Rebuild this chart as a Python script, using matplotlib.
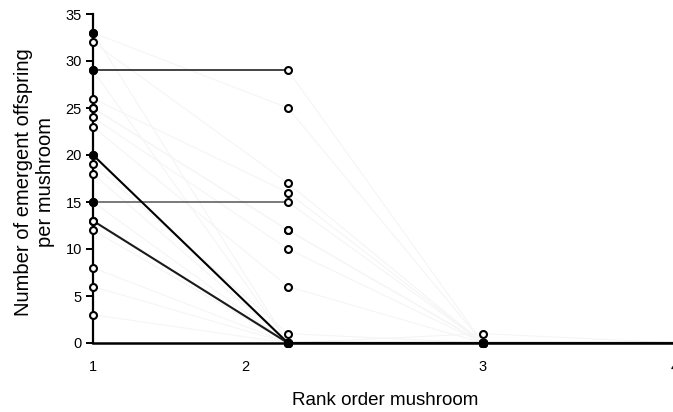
import matplotlib
matplotlib.use("Agg")
import matplotlib.pyplot as plt
from matplotlib.ticker import FixedLocator

plt.rcParams['font.family'] = ['Liberation Sans', 'DejaVu Sans']

# ranks (x positions of the points)
ranks = [1, 2, 3, 4]

# offspring per mushroom for each series at ranks 1..4
rank1 = [33, 33, 32, 29, 29, 26, 25, 25, 24, 23, 20, 20, 19, 18, 15, 15, 13, 13, 12, 8, 6, 3]
rank2 = [0, 25, 17, 29, 0, 16, 12, 12, 10, 6, 0, 0, 1, 0, 15, 0, 0, 0, 0, 0, 0, 0]
rank3 = [0, 0, 0, 0, 0, 0, 0, 0, 0, 0, 0, 0, 0, 1, 0, 0, 0, 0, 0, 0, 0, 0]
rank4 = [0, 0, 0, 0, 0, 0, 0, 0, 0, 0, 0, 0, 0, 0, 0, 0, 0, 0, 0, 0, 0, 0]

# tick labels and where they sit on the rank axis
xtick_labels = ['1', '2', '3', '4']
xtick_pos = [1, 1.78, 3, 3.985]
ytick_vals = [0, 5, 10, 15, 20, 25, 30, 35]

# style per series
dark_first = {3: '#111111', 14: '#555555'}
dark_all = {10: '#000000', 16: '#1a1a1a'}
filled = [0, 4, 11, 15]
faint = '#f5f5f5'

fig = plt.figure(figsize=(6.73, 4.12), dpi=100)
ax = fig.add_axes([93/673, 69/412, 585/673, 329/412])
ax.set_xlim(1, 4)
ax.set_ylim(0, 35)

n = len(rank1)
series = [[rank1[i], rank2[i], rank3[i], rank4[i]] for i in range(n)]

# faint lines
for i in range(n):
    if i in dark_all:
        continue
    if i in dark_first:
        ax.plot(ranks[1:], series[i][1:], color=faint, lw=0.8, zorder=2, clip_on=False)
    else:
        ax.plot(ranks, series[i], color=faint, lw=0.8, zorder=2, clip_on=False)
# dark lines
for i, c in dark_first.items():
    ax.plot(ranks[:2], series[i][:2], color=c, lw=1.1, zorder=3, clip_on=False)
for i, c in dark_all.items():
    ax.plot(ranks, series[i], color=c, lw=1.5, zorder=3, clip_on=False,
            solid_joinstyle='miter')

# markers: open ones, then filled ones on top
for i in range(n):
    if i in filled:
        continue
    ax.plot(ranks, series[i], ls='none', marker='o', ms=5.0, mew=1.5,
            mec='black', mfc='white', zorder=5, clip_on=False)
for i in filled:
    ax.plot(ranks, series[i], ls='none', marker='o', ms=5.0, mew=1.5,
            mec='black', mfc='black', zorder=6, clip_on=False)

for s in ['top', 'right']:
    ax.spines[s].set_visible(False)
ax.spines['left'].set_linewidth(1.6)
ax.spines['bottom'].set_linewidth(1.8)
ax.spines['left'].set_zorder(4)
ax.spines['bottom'].set_zorder(4)

ax.set_yticks(ytick_vals)
ax.set_yticklabels([str(v) for v in ytick_vals])
ax.tick_params(axis='y', direction='out', length=5, width=1.4, pad=3, labelsize=10.5)

ax.xaxis.set_major_locator(FixedLocator(xtick_pos))
ax.set_xticklabels(xtick_labels)
ax.tick_params(axis='x', which='major', length=0, pad=12, labelsize=10.5)
ax.xaxis.set_minor_locator(FixedLocator([1]))
ax.tick_params(axis='x', which='minor', direction='out', length=4, width=1.4)

ax.set_xlabel('Rank order mushroom', fontsize=13.5)
ax.xaxis.set_label_coords(0.5, -0.15)
ax.set_ylabel('Number of emergent offspring\nper mushroom', fontsize=14.5, linespacing=1.2)
ax.yaxis.set_label_coords(-0.065, 0.49)

fig.savefig('out.png', dpi=100)
